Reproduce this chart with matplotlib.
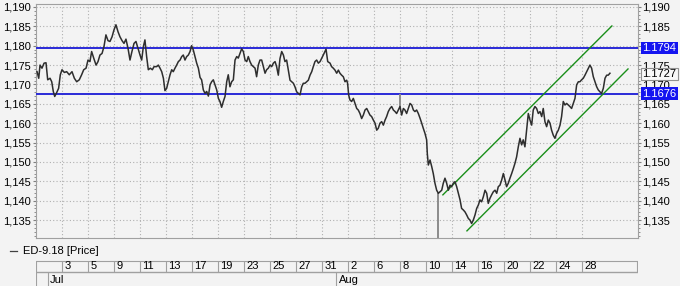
import matplotlib
matplotlib.use('Agg')
import matplotlib.pyplot as plt
from matplotlib.lines import Line2D
from matplotlib.ticker import MultipleLocator, FuncFormatter
from matplotlib.transforms import blended_transform_factory, offset_copy

plt.rcParams['font.family'] = ['Liberation Sans', 'DejaVu Sans']
plt.rcParams['font.size'] = 8

# x = trading days since Mon 2 Jul 2018 (fraction = time of day)
bar_t = [
    -0.92, -0.79, -0.69, -0.54, -0.38, -0.23, -0.10, 0.08, 0.21, 0.33, 0.44, 0.59, 0.74, 0.87,
    1.00, 1.18, 1.36, 1.56, 1.77, 1.95, 2.13, 2.33, 2.51, 2.67, 2.85, 3.00, 3.15, 3.28, 3.44,
    3.62, 3.77, 3.92, 4.08, 4.23, 4.38, 4.54, 4.69, 4.85, 5.00, 5.15, 5.31, 5.46, 5.62, 5.77,
    5.92, 6.08, 6.23, 6.38, 6.54, 6.69, 6.85, 7.00, 7.13, 7.26, 7.38, 7.51, 7.64, 7.79, 7.95,
    8.08, 8.28, 8.41, 8.54, 8.67, 8.80, 8.92, 9.05, 9.18, 9.31, 9.44, 9.56, 9.69, 9.82, 9.95,
    10.08, 10.21, 10.33, 10.46, 10.59, 10.72, 10.85, 10.97, 11.10, 11.23, 11.36, 11.49, 11.62,
    11.74, 11.87, 12.00, 12.13, 12.26, 12.39, 12.51, 12.64, 12.77, 12.90, 13.03, 13.15, 13.28,
    13.41, 13.54, 13.67, 13.79, 13.92, 14.05, 14.18, 14.31, 14.44, 14.56, 14.69, 14.82, 14.95,
    15.08, 15.21, 15.33, 15.46, 15.59, 15.72, 15.85, 15.97, 16.10, 16.23, 16.36, 16.49, 16.62,
    16.74, 16.87, 17.00, 17.13, 17.26, 17.39, 17.51, 17.64, 17.77, 17.90, 18.03, 18.15, 18.28,
    18.41, 18.54, 18.67, 18.80, 18.92, 19.05, 19.18, 19.31, 19.44, 19.56, 19.69, 19.82, 19.95,
    20.08, 20.21, 20.33, 20.46, 20.59, 20.72, 20.85, 20.97, 21.10, 21.23, 21.31, 21.44, 21.62,
    21.74, 21.87, 22.00, 22.13, 22.26, 22.38, 22.51, 22.64, 22.77, 22.90, 22.97, 23.05, 23.15,
    23.28, 23.41, 23.54, 23.67, 23.79, 23.92, 24.05, 24.18, 24.31, 24.44, 24.56, 24.69, 24.82,
    24.95, 25.08, 25.21, 25.33, 25.46, 25.59, 25.72, 25.85, 25.97, 26.10, 26.23, 26.36, 26.49,
    26.62, 26.74, 26.87, 27.00, 27.13, 27.26, 27.38, 27.51, 27.64, 27.77, 27.90, 28.03, 28.15,
    28.28, 28.41, 28.54, 28.67, 28.79, 28.92, 29.05, 29.10, 29.18, 29.31, 29.44, 29.56, 29.69,
    29.82, 29.95, 30.08, 30.21, 30.33, 30.46, 30.59, 30.72, 30.85, 30.97, 31.10, 31.23, 31.36,
    31.49, 31.62, 31.74, 31.87, 32.00, 32.13, 32.26, 32.38, 32.51, 32.64, 32.77, 32.90, 33.03,
    33.15, 33.28, 33.41, 33.54, 33.67, 33.79, 33.92, 34.05, 34.18, 34.31, 34.44, 34.56, 34.69,
    34.82, 34.95, 35.08, 35.20, 35.33, 35.46, 35.59, 35.72, 35.84, 35.97, 36.10, 36.23, 36.36,
    36.48, 36.61, 36.74, 36.87, 37.00, 37.13, 37.25, 37.38, 37.51, 37.64, 37.77, 37.90, 38.02,
    38.15, 38.28, 38.41, 38.54, 38.66, 38.79, 38.92, 39.05, 39.18, 39.31, 39.43, 39.56, 39.69,
    39.82, 39.95, 40.07, 40.20, 40.33, 40.46, 40.59, 40.72, 40.84, 40.97, 41.10, 41.23, 41.36,
    41.49, 41.61, 41.74, 41.87, 42.00, 42.13, 42.25, 42.38, 42.51, 42.64, 42.77, 42.90, 43.02,
    43.15,
]
bar_close = [
    1.1733, 1.1716, 1.1750, 1.1742, 1.1755, 1.1756, 1.1712, 1.1716, 1.1707, 1.1682, 1.1669, 1.1679, 1.1690, 1.1725,
    1.1738, 1.1731, 1.1733, 1.1725, 1.1733, 1.1716, 1.1707, 1.1712, 1.1725, 1.1738, 1.1742, 1.1763, 1.1759, 1.1785, 1.1768,
    1.1750, 1.1759, 1.1776, 1.1780, 1.1798, 1.1828, 1.1813, 1.1811, 1.1823, 1.1841, 1.1854, 1.1836, 1.1823, 1.1813, 1.1806,
    1.1817, 1.1793, 1.1763, 1.1785, 1.1806, 1.1811, 1.1793, 1.1776, 1.1763, 1.1798, 1.1815, 1.1772, 1.1738, 1.1742, 1.1738,
    1.1746, 1.1746, 1.1750, 1.1742, 1.1733, 1.1716, 1.1684, 1.1690, 1.1707, 1.1725, 1.1738, 1.1733, 1.1742, 1.1750, 1.1759,
    1.1763, 1.1772, 1.1776, 1.1763, 1.1772, 1.1776, 1.1785, 1.1800, 1.1789, 1.1772, 1.1755, 1.1742, 1.1718,
    1.1712, 1.1686, 1.1677, 1.1682, 1.1670, 1.1699, 1.1707, 1.1712, 1.1699, 1.1686, 1.1664, 1.1656, 1.1641,
    1.1656, 1.1669, 1.1707, 1.1725, 1.1694, 1.1707, 1.1712, 1.1763, 1.1772, 1.1768, 1.1780, 1.1792, 1.1785,
    1.1763, 1.1759, 1.1772, 1.1759, 1.1750, 1.1746, 1.1742, 1.1720, 1.1750, 1.1763, 1.1763, 1.1746, 1.1729,
    1.1738, 1.1742, 1.1750, 1.1746, 1.1755, 1.1759, 1.1746, 1.1724, 1.1767, 1.1785, 1.1776, 1.1759, 1.1763,
    1.1737, 1.1711, 1.1707, 1.1703, 1.1694, 1.1681, 1.1677, 1.1673, 1.1694, 1.1703, 1.1703, 1.1707, 1.1711,
    1.1724, 1.1733, 1.1746, 1.1759, 1.1763, 1.1755, 1.1759, 1.1767, 1.1776, 1.1785, 1.1791, 1.1759, 1.1755,
    1.1746, 1.1742, 1.1737, 1.1729, 1.1737, 1.1729, 1.1724, 1.1720, 1.1707, 1.1711, 1.1703, 1.1673, 1.1660,
    1.1656, 1.1664, 1.1651, 1.1638, 1.1634, 1.1625, 1.1612, 1.1621, 1.1634, 1.1638, 1.1630, 1.1621, 1.1617,
    1.1608, 1.1600, 1.1582, 1.1587, 1.1600, 1.1604, 1.1595, 1.1608, 1.1617, 1.1630, 1.1638, 1.1643, 1.1634,
    1.1630, 1.1625, 1.1634, 1.1643, 1.1621, 1.1638, 1.1634, 1.1625, 1.1638, 1.1651, 1.1647, 1.1634, 1.1630,
    1.1634, 1.1625, 1.1613, 1.1600, 1.1587, 1.1574, 1.1557, 1.1522, 1.1492, 1.1505, 1.1488, 1.1470, 1.1445,
    1.1427, 1.1419, 1.1423, 1.1427, 1.1445, 1.1458, 1.1445, 1.1427, 1.1440, 1.1436, 1.1445, 1.1449, 1.1436,
    1.1419, 1.1402, 1.1380, 1.1376, 1.1371, 1.1363, 1.1354, 1.1350, 1.1341, 1.1350, 1.1363, 1.1380, 1.1389,
    1.1402, 1.1397, 1.1410, 1.1427, 1.1419, 1.1393, 1.1406, 1.1415, 1.1423, 1.1427, 1.1419, 1.1436, 1.1440,
    1.1453, 1.1470, 1.1453, 1.1436, 1.1445, 1.1458, 1.1470, 1.1483, 1.1496, 1.1513, 1.1539, 1.1561, 1.1544,
    1.1557, 1.1539, 1.1582, 1.1625, 1.1608, 1.1595, 1.1634, 1.1643, 1.1638, 1.1625, 1.1630, 1.1617, 1.1638,
    1.1604, 1.1591, 1.1608, 1.1600, 1.1582, 1.1569, 1.1561, 1.1574, 1.1582, 1.1595, 1.1617, 1.1656, 1.1647,
    1.1651, 1.1647, 1.1643, 1.1638, 1.1651, 1.1664, 1.1699, 1.1707, 1.1707, 1.1712, 1.1716, 1.1724, 1.1733,
    1.1742, 1.1750, 1.1742, 1.1720, 1.1707, 1.1694, 1.1686, 1.1681, 1.1677, 1.1690, 1.1716, 1.1724, 1.1724,
    1.1729,
]

# long wicks (8 Aug high, 10 Aug low)
spike_t = [27.00, 29.95]
spike_from = [1.1643, 1.1419]
spike_to = [1.1676, 1.1290]

resistance = 1.1794
support = 1.1676
last_price = 1.1727

channel_upper_t = [30.30, 43.30]
channel_upper = [1.1415, 1.1851]
channel_lower_t = [32.15, 44.54]
channel_lower = [1.1322, 1.1740]

day_ticks = list(range(1, 42, 2))
day_labels = ['3', '5', '9', '11', '13', '17', '19', '23', '25', '27', '31',
              '2', '6', '8', '10', '14', '16', '20', '22', '24', '28']
month_ticks = [-0.1, 22.1]
month_labels = ['Jul', 'Aug']

BG = '#f3f3f3'
FRAME = '#a0a0a0'
W, H = 680, 286

fig = plt.figure(figsize=(W / 100, H / 100), dpi=100, facecolor=BG)
ax = fig.add_axes([36 / W, 1 - 238 / H, 601.5 / W, 234 / H])
ax.set_facecolor(BG)
ax.set_xlim(-1.0, 45.27)
ax.set_ylim(1.13036, 1.19077)

ax.set_xticks(day_ticks)
ax.yaxis.set_major_locator(MultipleLocator(0.005))
ax.yaxis.set_minor_locator(MultipleLocator(0.001))
ax.yaxis.set_major_formatter(FuncFormatter(lambda v, _: f'{v:.3f}'.replace('.', ',')))
ax.grid(True, color='#b0b0b0', linestyle=(0, (1, 2)), linewidth=0.8)
ax.tick_params(axis='x', bottom=False, labelbottom=False)
ax.tick_params(axis='y', which='both', left=True, right=True, labelleft=True,
               labelright=True, direction='out', color='#808080', pad=1)
ax.tick_params(axis='y', which='major', length=2.5)
ax.tick_params(axis='y', which='minor', length=1.2)
for s in ax.spines.values():
    s.set_color(FRAME)
    s.set_linewidth(0.8)

ax.axhline(resistance, color='#2a2ad8', lw=1.4, zorder=3)
ax.axhline(support, color='#2a2ad8', lw=1.4, zorder=3)
ax.plot(channel_upper_t, channel_upper, color='#1a8f1a', lw=1.0, zorder=3)
ax.plot(channel_lower_t, channel_lower, color='#1a8f1a', lw=1.0, zorder=3)
ax.vlines(spike_t, spike_from, spike_to, color='#8c8c8c', lw=1.4, zorder=3.5)
ax.plot(bar_t, bar_close, color='#2e2e2e', lw=1.1, zorder=4)

fig.canvas.draw()
# the right-hand 1,180 label sits under the resistance box
for tk in ax.yaxis.get_major_ticks():
    if abs(tk.get_loc() - 1.180) < 1e-6:
        tk.label2.set_visible(False)

tr = blended_transform_factory(ax.transAxes, ax.transData)
for val, fc, ec, tc in [(resistance, '#1414f0', 'none', 'white'),
                        (support, '#1414f0', 'none', 'white'),
                        (last_price, '#f8f8f8', '#909090', 'black')]:
    ax.text(1.008, val, f'{val:.4f}', transform=tr, ha='left', va='center',
            color=tc, fontsize=8, clip_on=False, zorder=6,
            bbox=dict(boxstyle='square,pad=0.12', fc=fc, ec=ec, lw=0.8))

# date strip below the chart (y in pixel rows from 260 downwards)
axs = fig.add_axes([36 / W, 0, 601.5 / W, 26 / H])
axs.set_xlim(ax.get_xlim())
axs.set_ylim(26, 0)
axs.axis('off')
axs.axhline(0.5, color=FRAME, lw=0.8)
axs.axhline(12.3, color=FRAME, lw=1.0)
axs.vlines([ax.get_xlim()[0] + 0.03], 0.5, 26, color=FRAME, lw=0.8)
axs.vlines([ax.get_xlim()[1] - 0.03], 0.5, 12.3, color=FRAME, lw=0.8)
axs.vlines(day_ticks, 0.5, 12.3, color=FRAME, lw=0.8)
axs.vlines(month_ticks, 12.3, 26, color=FRAME, lw=0.8)
off = offset_copy(axs.transData, fig=fig, x=2.5, y=0, units='dots')
for d, lab in zip(day_ticks, day_labels):
    axs.text(d, 6.4, lab, transform=off, ha='left', va='center', fontsize=8)
for m, lab in zip(month_ticks, month_labels):
    axs.text(m, 19.8, lab, transform=off, ha='left', va='center', fontsize=8)

ly = 1 - 251 / H
fig.add_artist(Line2D([10 / W, 17 / W], [ly, ly], color='#404040', lw=0.9))
fig.text(23 / W, ly, 'ED-9.18 [Price]', ha='left', va='center', fontsize=8)

fig.savefig('out.png', dpi=100, facecolor=BG)
